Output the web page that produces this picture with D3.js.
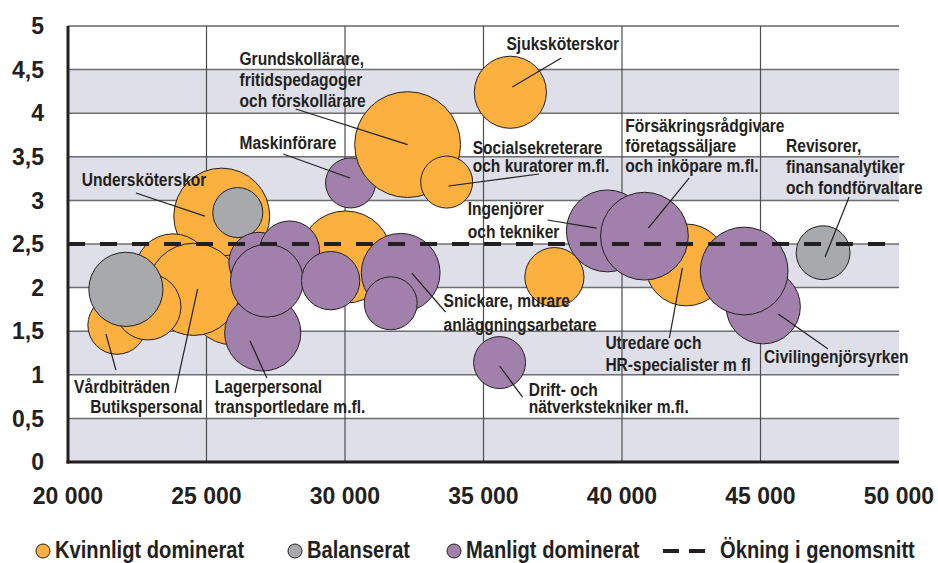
<!DOCTYPE html>
<html lang="sv">
<head>
    <meta charset="utf-8">
    <title>Yrken - lön och ökning</title>
    <script src="https://d3js.org/d3.v7.min.js"></script>
</head>
<body style="margin:0;background:#fff">
<div id="chart"></div>
<script>
// data, in draw order (later bubbles lie on top)
var salary   = [25550, 26130, 23790, 25950, 24540, 21770, 22880, 22090, 30020, 26890, 28000, 27030, 27180, 29480,
                30200, 32260, 33670, 32010, 31650, 35970, 35580, 37560, 39470, 42320, 40810, 45100, 44410, 47260];
var increase = [2.82, 2.86, 2.18, 1.86, 1.98, 1.57, 1.78, 1.98, 2.35, 2.29, 2.42, 1.48, 2.08, 2.08,
                3.20, 3.64, 3.21, 2.17, 1.82, 4.24, 1.14, 2.12, 2.65, 2.26, 2.59, 1.78, 2.19, 2.40];
var size     = [92, 25, 58, 81, 85, 34, 44, 55, 85, 36, 36, 58, 53, 34,
                25, 112, 27, 62, 28, 52, 27, 35, 67, 67, 77, 55, 77, 29];
var group    = ["K", "B", "K", "K", "K", "K", "K", "B", "K", "M", "M", "M", "M", "M",
                "M", "K", "K", "M", "M", "K", "M", "K", "M", "K", "M", "M", "M", "B"];

var yTicks = [0, 0.5, 1, 1.5, 2, 2.5, 3, 3.5, 4, 4.5, 5];
var xTicks = [20000, 25000, 30000, 35000, 40000, 45000, 50000];
var average = 2.5;

var legendNames = ["Kvinnligt dominerat", "Balanserat", "Manligt dominerat"];
var legendAvg = "Ökning i genomsnitt";

// labels: text lines, text position and pointer in data units
var notes = [
    {lines: ["Grundskollärare,", "fritidspedagoger", "och förskollärare"], at: [26190, 4.557], lh: 21, from: [28220, 4.048], to: [32260, 3.64]},
    {lines: ["Maskinförare"], at: [26190, 3.589], lh: 21, from: [27770, 3.532], to: [30180, 3.257]},
    {lines: ["Undersköterskor"], at: [20500, 3.165], lh: 21, from: [22450, 3.085], to: [24940, 2.82]},
    {lines: ["Vårdbiträden"], at: [20220, 0.791], lh: 21, from: [21730, 1.055], to: [21370, 1.468]},
    {lines: ["Butikspersonal"], at: [24860, 0.562], lh: 21, anchor: "end", from: [23860, 0.791], to: [24680, 1.984]},
    {lines: ["Lagerpersonal", "transportledare m.fl."], at: [25300, 0.791], lh: 20, from: [27180, 0.963], to: [26570, 1.388]},
    {lines: ["Sjuksköterskor"], at: [35830, 4.725], lh: 21, from: [37810, 4.633], to: [36040, 4.3]},
    {lines: ["Socialsekreterare", "och kuratorer m.fl."], at: [34610, 3.532], lh: 18, from: [37000, 3.303], to: [33740, 3.165]},
    {lines: ["Ingenjörer", "och tekniker"], at: [34430, 2.83], lh: 23, from: [37310, 2.775], to: [39080, 2.683]},
    {lines: ["Snickare, murare", "anläggningsarbetare"], at: [33560, 1.78], lh: 24, from: [33630, 1.72], to: [32410, 2.167]},
    {lines: ["Drift- och", "nätverkstekniker m.fl."], at: [36630, 0.757], lh: 17, from: [36410, 0.745], to: [35580, 1.101]},
    {lines: ["Försäkringsrådgivare", "företagssäljare", "och inköpare m.fl."], at: [40120, 3.784], lh: 20, from: [42430, 3.257], to: [40950, 2.683]},
    {lines: ["Revisorer,", "finansanalytiker", "och fondförvaltare"], at: [45920, 3.555], lh: 21, from: [48200, 3.039], to: [47330, 2.351]},
    {lines: ["Utredare och", "HR-specialister m fl"], at: [39400, 1.296], lh: 22, from: [41710, 1.422], to: [42180, 2.225]},
    {lines: ["Civilingenjörsyrken"], at: [45130, 1.135], lh: 21, from: [47440, 1.296], to: [45640, 1.697]}
];

(function () {
    var width = 938, height = 563;
    var ink = "#231f20";
    var font = "'Liberation Sans', Arial, sans-serif";
    var colors = {K: "#fbb03f", B: "#a7a9ac", M: "#a180ac"};

    var svg = d3.select("#chart").append("svg")
        .attr("width", width).attr("height", height);

    var x = d3.scaleLinear().domain([20000, 50000]).range([68, 899]);
    var y = d3.scaleLinear().domain([0, 5]).range([462, 26]);
    var r = d3.scaleSqrt().domain([0, 100]).range([0, 50]);

    // no narrow font installed: squeeze bold sans horizontally
    function narrowText(parent, px, py, fs, squeeze, anchor) {
        return parent.append("g")
            .attr("transform", "translate(" + px + "," + py + ") scale(" + squeeze + ",1)")
            .append("text")
            .attr("text-anchor", anchor || "start")
            .style("font-family", font)
            .style("font-weight", "bold")
            .style("font-size", fs + "px")
            .style("fill", ink);
    }

    // shaded bands every other half step
    svg.append("g").selectAll("rect")
        .data(yTicks.filter(function (t) { return t < 5 && t % 1 === 0; }))
        .enter().append("rect")
        .attr("x", x(20000)).attr("width", x(50000) - x(20000))
        .attr("y", function (d) { return y(d + 0.5); })
        .attr("height", function (d) { return y(d) - y(d + 0.5); })
        .style("fill", "#dfdfe9");

    // horizontal grid
    svg.append("g").selectAll("line")
        .data(yTicks.filter(function (t) { return t > 0; }))
        .enter().append("line")
        .attr("x1", x(20000)).attr("x2", x(50000))
        .attr("y1", function (d) { return y(d); }).attr("y2", function (d) { return y(d); })
        .style("stroke", function (d) { return d === 5 ? "#8d8d8f" : "#6d6e71"; })
        .style("stroke-width", function (d) { return d === 5 ? 2 : 1.5; });

    // vertical grid
    svg.append("g").selectAll("line")
        .data(xTicks.slice(1, -1))
        .enter().append("line")
        .attr("x1", function (d) { return x(d); }).attr("x2", function (d) { return x(d); })
        .attr("y1", y(5)).attr("y2", y(0))
        .style("stroke", "#4d4d4f")
        .style("stroke-width", 1.2);

    // bubbles
    var points = salary.map(function (s, i) {
        return {salary: s, increase: increase[i], size: size[i], group: group[i]};
    });
    svg.append("g").selectAll("circle")
        .data(points)
        .enter().append("circle")
        .attr("cx", function (d) { return x(d.salary); })
        .attr("cy", function (d) { return y(d.increase); })
        .attr("r", function (d) { return r(d.size); })
        .style("fill", function (d) { return colors[d.group]; })
        .style("stroke", ink)
        .style("stroke-width", 1);

    // axes lines
    svg.append("line")
        .attr("x1", x(20000)).attr("x2", x(20000))
        .attr("y1", y(5)).attr("y2", y(0) + 1.5)
        .style("stroke", ink).style("stroke-width", 3);
    svg.append("line")
        .attr("x1", x(20000) - 1.5).attr("x2", x(50000))
        .attr("y1", y(0)).attr("y2", y(0))
        .style("stroke", ink).style("stroke-width", 3);

    // average line
    svg.append("line")
        .attr("x1", x(20000)).attr("x2", x(50000))
        .attr("y1", y(average)).attr("y2", y(average))
        .style("stroke", ink).style("stroke-width", 4)
        .style("stroke-dasharray", "17,15");

    // pointers + labels
    var nl = svg.append("g");
    notes.forEach(function (n) {
        nl.append("line")
            .attr("x1", x(n.from[0])).attr("y1", y(n.from[1]))
            .attr("x2", x(n.to[0])).attr("y2", y(n.to[1]))
            .style("stroke", ink).style("stroke-width", 1.2);
        var t = narrowText(nl, x(n.at[0]), y(n.at[1]), 19, 0.82, n.anchor);
        n.lines.forEach(function (l, k) {
            t.append("tspan").attr("x", 0).attr("dy", k ? n.lh : 0).text(l);
        });
    });

    // tick labels
    var fmt = function (v) { return d3.format(",")(v).replace(",", " "); };
    svg.append("g").selectAll("text")
        .data(yTicks)
        .enter().append("text")
        .attr("x", 44).attr("y", function (d) { return y(d); })
        .attr("dy", "0.36em")
        .attr("text-anchor", "end")
        .style("font-family", font).style("font-weight", "bold").style("font-size", "23px")
        .style("fill", ink)
        .text(function (d) { return String(d).replace(".", ","); });
    svg.append("g").selectAll("text")
        .data(xTicks)
        .enter().append("text")
        .attr("x", function (d) { return x(d); }).attr("y", 504)
        .attr("text-anchor", "middle")
        .style("font-family", font).style("font-weight", "bold").style("font-size", "23px")
        .style("fill", ink)
        .text(fmt);

    // legend
    var lg = svg.append("g");
    var lx = [43, 295, 454];
    legendNames.forEach(function (name, i) {
        lg.append("circle").attr("cx", lx[i]).attr("cy", 551).attr("r", 7)
            .style("fill", colors[["K", "B", "M"][i]]).style("stroke", ink).style("stroke-width", 1);
        narrowText(lg, lx[i] + 12, 558, 24, 0.84).text(name);
    });
    lg.append("line").attr("x1", 663).attr("x2", 705).attr("y1", 551).attr("y2", 551)
        .style("stroke", ink).style("stroke-width", 4).style("stroke-dasharray", "16,10");
    narrowText(lg, 720, 558, 24, 0.84).text(legendAvg);
}());
</script>
</body>
</html>
